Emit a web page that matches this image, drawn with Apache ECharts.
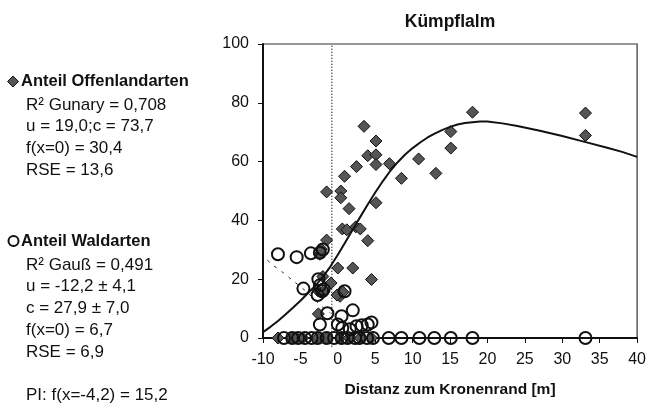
<!DOCTYPE html>
<html>
<head>
<meta charset="utf-8">
<script src="https://cdn.jsdelivr.net/npm/echarts@6/dist/echarts.min.js"></script>
<style>
html,body{margin:0;padding:0;background:#fff;}
#chart{width:649px;height:403px;}
</style>
</head>
<body>
<div id="chart"></div>
<script>
// ---- data ----
var titleText = 'Kümpflalm';
var xAxisName = 'Distanz zum Kronenrand [m]';
// Anteil Offenlandarten (diamonds)
var offenX = [3.5,5.1,4.0,5.1,5.1,2.5,6.9,0.9,8.5,-1.5,0.4,0.4,1.5,5.1,10.8,18.0,15.1,15.1,13.1,33.1,33.1,
              0.6,1.2,2.4,3.0,4.0,-1.5,-2.4,-2.2,0.0,2.0,4.5,-2.0,-0.9,-2.7,-2.0,0.3,0.7,-0.1,-2.6,
              -8.0,-6.1,-5.5,-4.7,-2.7,-1.5,0.3,1.5,3.0,4.5];
var offenY = [72,67,62,62.3,59,58.3,59.3,55,54.3,49.7,50,47.7,44,46,60.9,76.8,70.2,64.6,56,76.5,68.9,
              37.1,36.8,37.8,37.1,33.1,33.3,28.5,30.2,23.8,23.8,19.9,20.9,18.7,16.2,15.5,14.2,15.6,14.6,8.2,
              0,0,0,0,0,0,0,0,0,0];
// Anteil Waldarten (circles)
var waldX = [-8.0,-5.5,-3.6,-2.0,-2.4,-4.6,-2.6,-2.4,-2.1,-2.7,-1.9,0.9,-1.4,2.0,0.5,-2.4,0.0,0.6,2.5,3.2,4.0,4.5,1.6,
             -7.2,-6.1,-5.3,-4.4,-3.5,-2.7,-1.5,-0.5,0.5,1.3,2.3,2.9,3.9,4.7,6.8,8.5,10.9,12.9,15.1,18.0,33.1];
var waldY = [28.5,27.5,28.8,30.1,29.0,16.8,20.0,17.9,15.9,14.6,16.5,15.9,8.4,9.4,7.4,4.6,4.6,3.4,4.0,4.3,4.6,5.3,3.0,
             0,0,0,0,0,0,0,0,0,0,0,0,0,0,0,0,0,0,0,0,0];
// Gunary fit
var gunaryX = [-11.7,-10,-9,-8,-7,-6,-5,-4,-3,-2,-1,0,1,2,3,4,5,6,7,8,9,10,11,12,13,14,15,16,17,18,19,20,22,24,27,30,33,36,38,40];
var gunaryY = [0,2,3.8,5.8,8.0,10.3,12.7,15.2,17.8,20.8,24.3,28.3,32.6,36.9,41.2,45.4,49.5,53.3,56.8,59.8,62.4,64.6,66.5,68.2,69.6,70.8,71.8,72.6,73.1,73.4,73.6,73.6,73.0,72.1,70.5,68.7,66.7,64.7,63.3,61.6];
// Gauss fit
var gaussX = [-11.7,-10,-8.8,-7.3,-6,-4.4,-3.3,-2.4,-1.0];
var gaussY = [27.6,27.4,25.0,22.2,19.5,16.2,13.6,11.3,8.5];
// crown edge marker
var edgeX = -0.8;
// left annotation text
var offenHeader = 'Anteil Offenlandarten';
var offenLines = ['R² Gunary = 0,708','u = 19,0;c = 73,7','f(x=0) = 30,4','RSE = 13,6'];
var waldHeader = 'Anteil Waldarten';
var waldLines = ['R² Gauß = 0,491','u = -12,2 ± 4,1','c = 27,9 ± 7,0','f(x=0) = 6,7','RSE = 6,9','','PI: f(x=-4,2) = 15,2'];

function pairs(xs, ys){ return xs.map(function(x,i){ return [x, ys[i]]; }); }

var FONT = '"Liberation Sans", Arial, sans-serif';
var chart = echarts.init(document.getElementById('chart'), null, {renderer:'canvas'});

var graphics = [];
graphics.push({type:'text', x:450, y:22, style:{text:titleText, font:'bold 17.5px '+FONT, fill:'#111', textAlign:'center', textVerticalAlign:'middle'}});
// legend icons
graphics.push({type:'polygon', shape:{points:[[13,76],[18.5,81.5],[13,87],[7.5,81.5]]}, style:{fill:'#555', stroke:'#111', lineWidth:1}});
graphics.push({type:'circle', shape:{cx:13.5, cy:241, r:5}, style:{fill:'none', stroke:'#111', lineWidth:2}});
graphics.push({type:'text', x:21, y:81.5, style:{text:offenHeader, font:'bold 16.5px '+FONT, fill:'#111', textVerticalAlign:'middle'}});
offenLines.forEach(function(t,i){
  graphics.push({type:'text', x:26, y:105+i*21.7, style:{text:t, font:'17px '+FONT, fill:'#111', textVerticalAlign:'middle'}});
});
graphics.push({type:'text', x:21, y:241, style:{text:waldHeader, font:'bold 16.5px '+FONT, fill:'#111', textVerticalAlign:'middle'}});
waldLines.forEach(function(t,i){
  if(!t) return;
  graphics.push({type:'text', x:26, y:265+i*21.8, style:{text:t, font:'17px '+FONT, fill:'#111', textVerticalAlign:'middle'}});
});

var option = {
  animation:false,
  backgroundColor:'#fff',
  textStyle:{fontFamily:FONT},
  grid:{left:263, right:11, top:44, bottom:57, show:true, borderColor:'#333', borderWidth:1.2, containLabel:false},
  xAxis:{
    type:'value', min:-10, max:40, interval:5,
    name:xAxisName, nameLocation:'middle', nameGap:44,
    nameTextStyle:{fontFamily:FONT, fontWeight:'bold', fontSize:15.5, color:'#111'},
    axisLine:{show:true, onZero:false, lineStyle:{color:'#111', width:2}},
    axisTick:{show:true, inside:false, length:5, lineStyle:{color:'#111', width:1}},
    axisLabel:{fontFamily:FONT, fontSize:16, color:'#111', margin:14},
    splitLine:{show:false}
  },
  yAxis:{
    type:'value', min:0, max:100, interval:20,
    axisLine:{show:true, onZero:false, lineStyle:{color:'#111', width:2}},
    axisTick:{show:true, inside:false, length:5, lineStyle:{color:'#111', width:1}},
    axisLabel:{fontFamily:FONT, fontSize:16, color:'#111', margin:14},
    splitLine:{show:false}
  },
  series:[
    {type:'line', data:[[edgeX,-3],[edgeX,100]], symbol:'none', clip:false, silent:true,
     lineStyle:{color:'#000', width:1.2, type:[1,2]}, z:1},
    {type:'scatter', name:'Anteil Offenlandarten', data:pairs(offenX, offenY), symbol:'diamond', symbolSize:12,
     itemStyle:{color:'#555', borderColor:'#111', borderWidth:1, opacity:1}, z:2},
    {type:'scatter', name:'Anteil Waldarten', data:pairs(waldX, waldY), symbol:'circle', symbolSize:12,
     itemStyle:{color:'rgba(255,255,255,0)', borderColor:'#111', borderWidth:2, opacity:1}, z:3},
    {type:'line', data:pairs(gunaryX, gunaryY), symbol:'none', smooth:false, clip:false,
     lineStyle:{color:'#111', width:2}, z:4},
    {type:'line', data:pairs(gaussX, gaussY), symbol:'none', smooth:0.3, clip:false,
     lineStyle:{color:'#222', width:1, type:[3,6]}, z:4}
  ],
  graphic:graphics
};
chart.setOption(option);
</script>
</body>
</html>
